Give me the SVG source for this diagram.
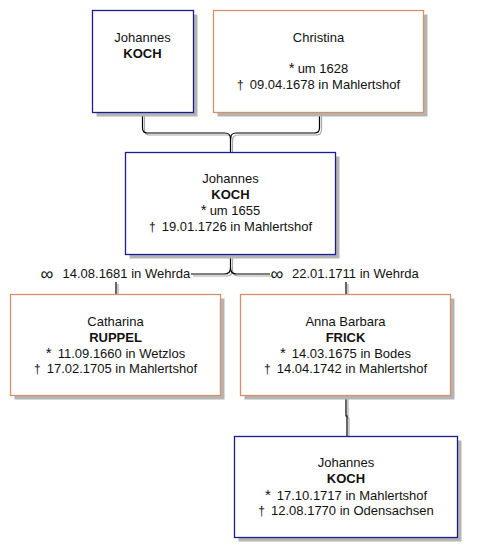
<svg xmlns="http://www.w3.org/2000/svg" width="477" height="558" viewBox="0 0 477 558">
<style>
.sh{fill:#b4b4b4;stroke:none}
.m{fill:#fff;stroke:#1c1c96;stroke-width:1.3}
.f{fill:#fff;stroke:#d8906a;stroke-width:1.3}
text{font-family:"Liberation Sans",Arial,sans-serif;font-size:13px;fill:#111;text-anchor:middle}
.b{font-weight:bold}
.st{font-size:15px}
.dg{font-size:12px}
.rg{font-size:18px}
.l{text-anchor:start}
.cb{fill:none;stroke:#000;stroke-width:1.2}
.cg{fill:none;stroke:#a8a8a8;stroke-width:1.2}
</style>
<rect width="477" height="558" fill="#fff"/>
<g id="connectors">
<g transform="translate(2,2)" class="cg">
<path d="M142.5,112.5 V128 Q142.5,133 147.5,133 H225 Q230.5,133 230.5,139 V152"/>
<path d="M319.5,112.5 V128 Q319.5,133 314.5,133 H236 Q230.5,133 230.5,139"/>
<path d="M230.5,254.5 V268 Q230.5,274 224.5,274 H191"/>
<path d="M230.5,268 Q230.5,274 236.5,274 H270"/>
<path d="M116,282 V292"/>
<path d="M346,282 V292"/>
<path d="M346,396 V416 H347 V434"/>
</g>
<g class="cb">
<path d="M142.5,112.5 V128 Q142.5,133 147.5,133 H225 Q230.5,133 230.5,139 V152.5"/>
<path d="M319.5,112.5 V128 Q319.5,133 314.5,133 H236 Q230.5,133 230.5,139"/>
<path d="M230.5,254.5 V268 Q230.5,274 224.5,274 H191"/>
<path d="M230.5,268 Q230.5,274 236.5,274 H270"/>
<path d="M116,282 V294.5"/>
<path d="M346,282 V294.5"/>
<path d="M346,396 V416 H347 V436.5"/>
</g>
<text class="l rg" x="40.5" y="280">∞</text>
<text class="l" x="62.5" y="278">14.08.1681 in Wehrda</text>
<text class="l rg" x="270.5" y="280">∞</text>
<text class="l" x="292" y="278">22.01.1711 in Wehrda</text>
</g>
<g id="p1">
<rect class="sh" x="96.5" y="14.5" width="101" height="102"/>
<rect class="m" x="92.5" y="10.5" width="101" height="102"/>
<text x="142.5" y="41.7">Johannes</text>
<text class="b" x="142.5" y="57.7">KOCH</text>
</g>
<g id="p2">
<rect class="sh" x="217.5" y="14.5" width="210" height="102"/>
<rect class="f" x="213.5" y="10.5" width="210" height="102"/>
<text x="318.5" y="41.7">Christina</text>
<text x="318.5" y="73"><tspan class="st">*</tspan><tspan dx="3">um 1628</tspan></text>
<text x="318.5" y="88.5"><tspan class="dg">†</tspan><tspan dx="6">09.04.1678 in Mahlertshof</tspan></text>
</g>
<g id="p3">
<rect class="sh" x="129.5" y="156.5" width="210" height="102"/>
<rect class="m" x="125.5" y="152.5" width="210" height="102"/>
<text x="230.5" y="183.3">Johannes</text>
<text class="b" x="230.5" y="199.3">KOCH</text>
<text x="230.5" y="215"><tspan class="st">*</tspan><tspan dx="3">um 1655</tspan></text>
<text x="230.5" y="230.5"><tspan class="dg">†</tspan><tspan dx="6">19.01.1726 in Mahlertshof</tspan></text>
</g>
<g id="p4">
<rect class="sh" x="14.5" y="298.5" width="210" height="101"/>
<rect class="f" x="10.5" y="294.5" width="210" height="101"/>
<text x="115.5" y="325.7">Catharina</text>
<text class="b" x="115.5" y="341.7">RUPPEL</text>
<text x="115.5" y="358"><tspan class="st">*</tspan><tspan dx="6">11.09.1660 in Wetzlos</tspan></text>
<text x="115.5" y="373"><tspan class="dg">†</tspan><tspan dx="6">17.02.1705 in Mahlertshof</tspan></text>
</g>
<g id="p5">
<rect class="sh" x="244.5" y="298.5" width="210" height="101"/>
<rect class="f" x="240.5" y="294.5" width="210" height="101"/>
<text x="345.5" y="325.7">Anna Barbara</text>
<text class="b" x="345.5" y="341.7">FRICK</text>
<text x="345.5" y="358"><tspan class="st">*</tspan><tspan dx="6">14.03.1675 in Bodes</tspan></text>
<text x="345.5" y="373"><tspan class="dg">†</tspan><tspan dx="6">14.04.1742 in Mahlertshof</tspan></text>
</g>
<g id="p6">
<rect class="sh" x="238.5" y="440.5" width="223" height="101"/>
<rect class="m" x="234.5" y="436.5" width="223" height="101"/>
<text x="346" y="467.3">Johannes</text>
<text class="b" x="346" y="483.3">KOCH</text>
<text x="346" y="499.5"><tspan class="st">*</tspan><tspan dx="6">17.10.1717 in Mahlertshof</tspan></text>
<text x="346" y="514.5"><tspan class="dg">†</tspan><tspan dx="6">12.08.1770 in Odensachsen</tspan></text>
</g>
</svg>
